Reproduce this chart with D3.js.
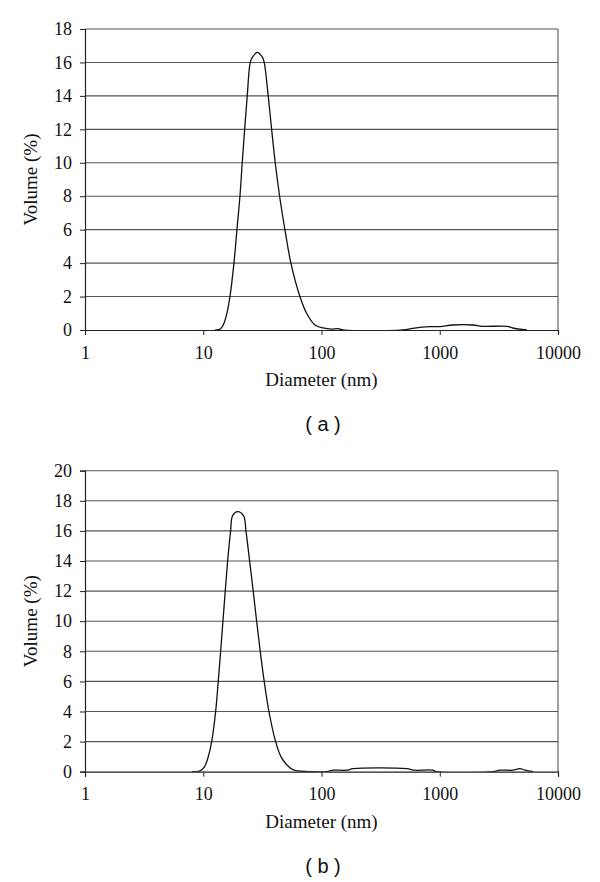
<!DOCTYPE html>
<html>
<head>
<meta charset="utf-8">
<script src="https://cdn.jsdelivr.net/npm/d3@7"></script>
<style>
  body { margin: 0; background: #fff; }
  text { font-family: "Liberation Serif", "Times New Roman", serif; fill: #111; }
  .panel-tag { font-family: "Liberation Sans", Arial, sans-serif; }
</style>
</head>
<body>
<svg id="chart" width="600" height="882"></svg>
<script>
// panel (a)
const diameterA = [12.5, 13.0, 14.0, 14.76, 15.6, 16.82, 18.18, 19.27, 20.43, 21.36, 22.39, 23.55, 24.96, 26.0, 28.61, 31.7, 32.78,
  35.43, 37.87, 40.61, 44.24, 49.05, 55.12, 65.69, 74.82, 88, 103, 121, 138, 152,
  488, 590, 824, 1000, 1290, 1900, 2300, 3700, 4150, 5450];
const volumeA = [0, 0, 0.08, 0.3, 0.8, 2, 4, 6, 8, 10, 12, 14, 16, 16.3, 16.6, 16.3, 16,
  14, 12, 10, 8, 6, 4, 2, 1, 0.3, 0.12, 0.05, 0.08, 0,
  0, 0.1, 0.2, 0.2, 0.3, 0.3, 0.22, 0.22, 0.12, 0];

// panel (b)
const diameterB = [8.0, 8.5, 9.38, 10.2, 11.03, 11.78, 12.73, 13.39, 14.03, 14.67, 15.35, 16.08, 17.04, 17.69, 19.54, 21.95,
  22.96, 24.67, 26.46, 28.28, 30.33, 32.78, 35.93, 40.93, 45.4, 51, 58, 68, 79.6,
  110, 126, 163, 185, 525, 617, 875, 937, 2830, 3220, 4150, 4750, 5300, 6150];
const volumeB = [0, 0, 0.05, 0.3, 1, 2, 4, 6, 8, 10, 12, 14, 16, 17, 17.28, 17,
  16, 14, 12, 10, 8, 6, 4, 2, 1, 0.45, 0.12, 0.03, 0,
  0, 0.1, 0.1, 0.2, 0.2, 0.1, 0.1, 0, 0, 0.1, 0.1, 0.2, 0.1, 0];

const xTicks = [1, 10, 100, 1000, 10000];
const yTicksA = d3.range(0, 19, 2);
const yTicksB = d3.range(0, 21, 2);

const svg = d3.select("#chart");

function drawPanel(cfg) {
  const left = 85, right = 558;
  const x = d3.scaleLog().domain([1, 10000]).range([left, right]);
  const y = d3.scaleLinear().domain([0, cfg.yMax]).range([cfg.bottom, cfg.top]);
  const g = svg.append("g");

  // keep the smoothed curve from dipping below the baseline
  g.append("clipPath").attr("id", "clip-" + cfg.id)
    .append("rect")
    .attr("x", left).attr("y", cfg.top)
    .attr("width", right - left).attr("height", cfg.bottom - cfg.top);

  // gridlines
  g.append("g")
    .selectAll("line")
    .data(cfg.yTicks.filter(d => d > 0))
    .join("line")
    .attr("x1", left).attr("x2", right)
    .attr("y1", d => y(d)).attr("y2", d => y(d))
    .attr("stroke", "#555").attr("stroke-width", 1.1);

  // right border
  g.append("line")
    .attr("x1", right).attr("x2", right)
    .attr("y1", cfg.top).attr("y2", cfg.bottom)
    .attr("stroke", "#555").attr("stroke-width", 1.1);

  // y axis
  const yAxis = g.append("g")
    .attr("transform", `translate(${left},0)`)
    .call(d3.axisLeft(y).tickValues(cfg.yTicks).tickSize(5).tickPadding(8).tickFormat(d3.format("d")));
  yAxis.select(".domain").attr("stroke", "#222").attr("stroke-width", 1.2);
  yAxis.selectAll(".tick line").attr("stroke", "#222");
  yAxis.selectAll("text").attr("font-size", 18).attr("fill", "#111").attr("font-family", "Liberation Serif");

  // x axis
  const xAxis = g.append("g")
    .attr("transform", `translate(0,${cfg.bottom})`)
    .call(d3.axisBottom(x).tickValues(xTicks).tickSize(5).tickPadding(11).tickFormat(d3.format("d")));
  xAxis.select(".domain").attr("stroke", "#222").attr("stroke-width", 1.2);
  xAxis.selectAll(".tick line").attr("stroke", "#222");
  xAxis.selectAll("text").attr("font-size", 18).attr("fill", "#111").attr("font-family", "Liberation Serif");

  // curve
  const line = d3.line()
    .x((d, i) => x(cfg.xs[i]))
    .y(d => y(d))
    .curve(d3.curveCatmullRom.alpha(0.5));
  g.append("path")
    .attr("d", line(cfg.ys))
    .attr("clip-path", `url(#clip-${cfg.id})`)
    .attr("fill", "none")
    .attr("stroke", "#111")
    .attr("stroke-width", 1.3);

  // titles
  g.append("text")
    .attr("x", (left + right) / 2).attr("y", cfg.bottom + 56)
    .attr("text-anchor", "middle").attr("font-size", 19)
    .text("Diameter (nm)");
  g.append("text")
    .attr("transform", `translate(37,${(cfg.top + cfg.bottom) / 2}) rotate(-90)`)
    .attr("text-anchor", "middle").attr("font-size", 19)
    .text("Volume (%)");
  g.append("text")
    .attr("class", "panel-tag")
    .attr("x", 323).attr("y", cfg.bottom + 101)
    .attr("text-anchor", "middle").attr("font-size", 20)
    .text(cfg.tag);
}

drawPanel({ id: "a", top: 29, bottom: 330, yMax: 18, yTicks: yTicksA, xs: diameterA, ys: volumeA, tag: "( a )" });
drawPanel({ id: "b", top: 470.7, bottom: 771.7, yMax: 20, yTicks: yTicksB, xs: diameterB, ys: volumeB, tag: "( b )" });
</script>
</body>
</html>
